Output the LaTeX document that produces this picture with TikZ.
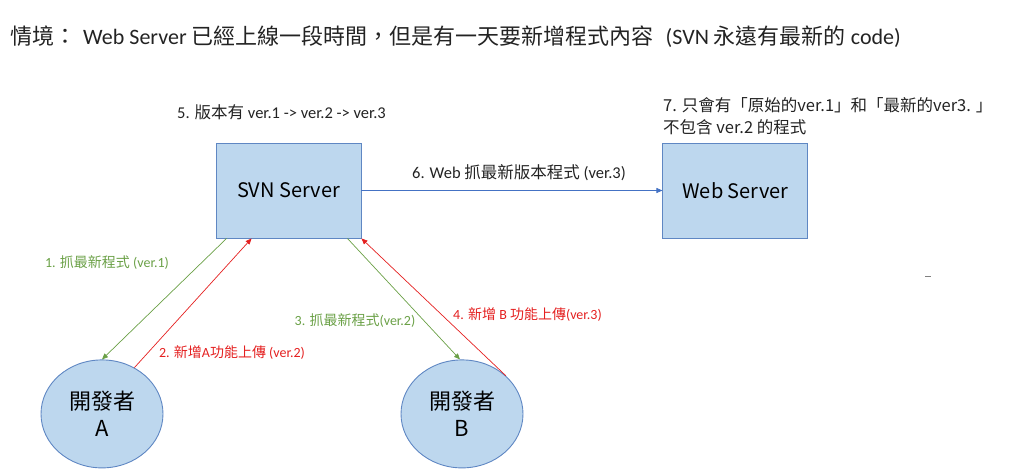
\documentclass[tikz,border=0pt]{standalone}
\usepackage{fontspec}
\setmainfont{Carlito}
\newfontfamily\cjk{Noto Sans CJK TC}
\newcommand{\zh}[1]{{\cjk #1}}
\usepackage{xcolor}
\usepackage{tikz}
\usetikzlibrary{positioning}
\usetikzlibrary{shapes.geometric}
\usetikzlibrary{arrows.meta}

\definecolor{boxfill}{RGB}{189,215,238}
\definecolor{boxline}{RGB}{95,135,195}
\definecolor{getgreen}{RGB}{106,160,70}
\definecolor{putred}{RGB}{228,32,32}
\definecolor{webblue}{RGB}{68,114,196}
\definecolor{inktext}{RGB}{35,35,35}

\begin{document}
\begin{tikzpicture}[x=1pt, y=1pt, node distance=121pt and 301pt,
  server/.style={draw=boxline, fill=boxfill, line width=0.9pt, minimum width=145pt, minimum height=95pt, inner sep=0pt, font=\cjk\fontsize{20}{24}\selectfont},
  dev/.style={ellipse, draw=boxline, fill=boxfill, line width=0.9pt, minimum width=122pt, minimum height=108pt, inner sep=0pt, align=center, font=\cjk\fontsize{22}{27}\selectfont},
  note/.style={inktext, inner sep=0pt, font=\fontsize{16.5}{20}\selectfont},
  steplabel/.style={inner sep=0pt, font=\fontsize{14}{17}\selectfont},
  get/.style={getgreen, line width=0.7pt, -{Triangle[length=6pt,width=5pt]}},
  put/.style={putred, line width=0.7pt, -{Triangle[length=6pt,width=5pt]}}]
\useasboundingbox (0,0) rectangle (1024,475);

\node[note, anchor=west, font=\fontsize{22}{26}\selectfont] (title) at (10,438) {\zh{情境：}\hspace{2pt} Web Server \zh{已經上線一段時間，但是有一天要新增程式內容}\hspace{12pt}(SVN \zh{永遠有最新的} code)};

\node[server] (svn) at (288.5,284.5) {SVN Server};
\node[server, right=of svn] (web) {Web Server};
\node[dev, below=of svn, xshift=-186.5pt] (devA) {開發者\\A};
\node[dev, below=of svn, xshift=173.5pt] (devB) {開發者\\B};

\node[note] (versions) at (281.5,363) {5. \zh{版本有} ver.1 -> ver.2 -> ver.3};
\node[note, anchor=west, align=left, font=\cjk\fontsize{16.5}{22}\selectfont] (webnote) at (663,359) {7. 只會有「原始的ver.1」和「最新的ver3. 」\\不包含 ver.2 的程式};

\draw[get] ([xshift=11pt]svn.south west) -- (devA.north);
\draw[put] (devA.55) -- ([xshift=36pt]svn.south west);
\draw[get] ([xshift=-14pt]svn.south east) -- ([xshift=-2pt]devB.north);
\draw[put] (devB.41) -- (svn.south east);
\draw[webblue, line width=0.7pt, -{Triangle[length=6pt,width=5pt]}] (svn.east) -- (web.west);

\node[steplabel, getgreen] (l1) at (107,212) {1. \zh{抓最新程式} (ver.1)};
\node[steplabel, putred] (l2) at (232,122) {2. \zh{新增}A\zh{功能上傳} (ver.2)};
\node[steplabel, getgreen] (l3) at (355,154) {3. \zh{抓最新程式}(ver.2)};
\node[steplabel, putred] (l4) at (527.5,160) {4. \zh{新增} B \zh{功能上傳}(ver.3)};
\node[steplabel, inktext, font=\fontsize{16.5}{20}\selectfont] (l6) at (519,302) {6. Web \zh{抓最新版本程式} (ver.3)};

\draw[gray, line width=0.6pt] (925,199) -- (931,199);
\end{tikzpicture}
\end{document}
